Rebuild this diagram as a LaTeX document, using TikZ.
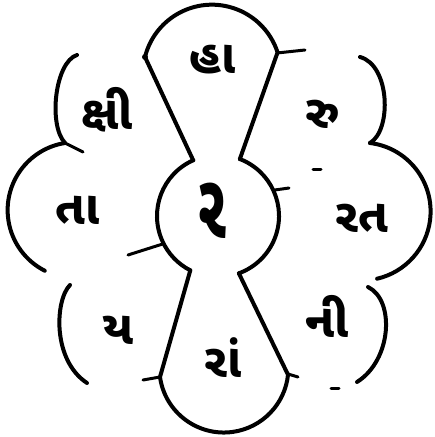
\documentclass[tikz,border=0pt]{standalone}
\usepackage{fontspec}
\newfontfamily\gujfont[Script=Gujarati]{Noto Sans Gujarati UI}
\usetikzlibrary{calc}
\tikzset{
  rim/.style={line width=4pt,line cap=round},
  spur/.style={line width=3pt,line cap=round},
  syl/.style={font=\gujfont\bfseries\fontsize{47}{47}\selectfont,inner sep=0pt},
  hub/.style={font=\gujfont\bfseries\fontsize{92}{92}\selectfont,inner sep=0pt,xscale=0.62},
}
\begin{document}
\begin{tikzpicture}[x=1pt,y=1pt]
\useasboundingbox (0,0) rectangle (435,437);
\coordinate (C) at (218,221);
\coordinate (A) at (145,380); \coordinate (B) at (277,384);
\coordinate (D) at (160,60); \coordinate (E) at (288,63);
\coordinate (L) at (65,294); \coordinate (R) at (370,294);
% centre ring
\draw[rim] ($(C)+(114:61)$) arc[start angle=114,end angle=243,radius=61];
\draw[rim] ($(C)+(69:61)$) arc[start angle=69,end angle=-70,radius=61];
% top and bottom petals
\draw[rim] ($(C)+(114:61)$) -- (A) arc[start angle=166,end angle=18,radius=69] -- ($(C)+(69:61)$);
\draw[rim] ($(C)+(243:61)$) -- (D) arc[start angle=188,end angle=354,radius=64.5] -- ($(C)+(-70:61)$);
% side petals
\draw[rim] (77,382) .. controls (55,375) and (48,312) .. (L);
\draw[rim] (L) arc[start angle=99,end angle=243,radius=68];
\draw[rim] (70,152) .. controls (55,137) and (52,77) .. (87,54);
\draw[rim] (360,380) .. controls (390,372) and (392,307) .. (R);
\draw[rim] (R) arc[start angle=83,end angle=-77,radius=69];
\draw[rim] (368,150) .. controls (395,137) and (392,77) .. (357,55);
% spurs
\draw[spur] (L) -- (83,285);
\draw[spur] (B) -- (305,387);
\draw[spur] (D) -- (143,57);
\draw[spur] (E) -- (298,60);
\draw[spur] ($(C)+(207:61)$) -- (128,182);
\draw[spur] ($(C)+(25:61)$) -- (289,249);
\fill (A) circle (3);
\draw[spur] (313,267) -- (321,267);
\draw[spur] (331,48) -- (339,48);
% syllables
\node[hub] (ra) at (212,226) {ર};
\node[syl] (kshi) at (107,327) {ક્ષી};
\node[syl] (haa) at (213,377) {હા};
\node[syl] (ru) at (323,323) {રુ};
\node[syl] (rat) at (362,219) {રત};
\node[syl] (nii) at (327,121) {ની};
\node[syl] (raan) at (223,79) {રાં};
\node[syl] (ya) at (118,107) {ય};
\node[syl] (taa) at (78,227) {તા};
\end{tikzpicture}
\end{document}
